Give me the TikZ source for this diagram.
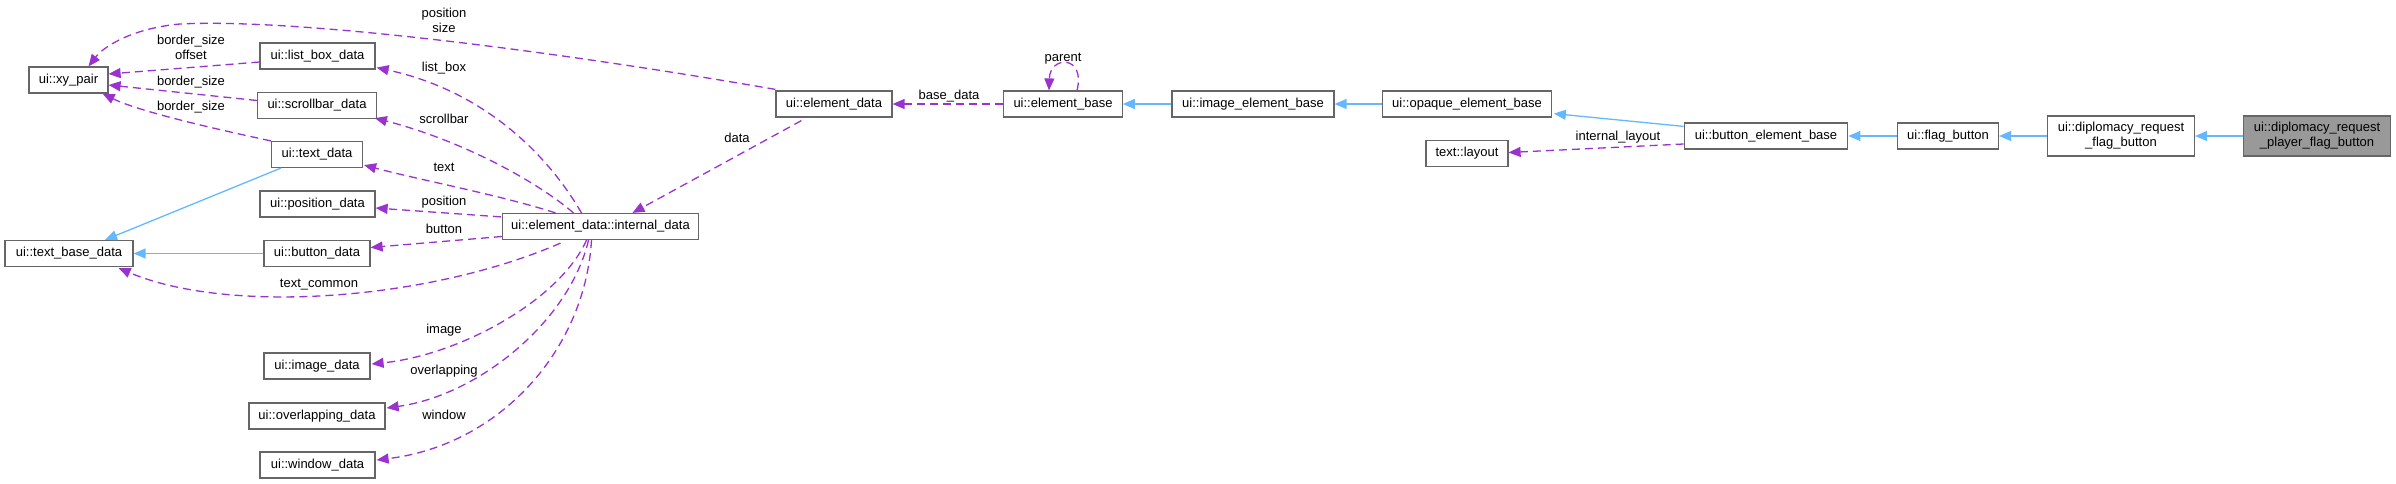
\documentclass[tikz,border=0pt]{standalone}
\usepackage{fontspec}
\setmainfont{Liberation Sans}
\usetikzlibrary{arrows.meta,calc}
\definecolor{purp}{HTML}{9A32CD}
\definecolor{blu}{HTML}{63B8FF}
\definecolor{boxgray}{HTML}{666666}
\definecolor{mainfill}{HTML}{999999}
\begin{document}
\begin{tikzpicture}[x=1pt,y=-1pt,
  box/.style={draw=boxgray,line width=1.2pt,fill=white,minimum height=26pt,inner sep=2pt,align=center,
    font=\fontsize{13}{15}\selectfont},
  dep/.style={draw=purp,line width=1.3pt,dash pattern=on 8pt off 5pt,
    -{Triangle[length=12pt,width=10pt,fill=purp]}},
  inh/.style={draw=blu,line width=1.3pt,-{Triangle[length=12pt,width=10pt,fill=blu]}},
  lbl/.style={font=\fontsize{13}{15}\selectfont,align=center,inner sep=1pt}]
\useasboundingbox (0,0) rectangle (2396,483);
% nodes
\node[box,minimum width=79pt] (xy) at (68.5,80) {ui::xy\_pair};
\node[box,minimum width=115pt] (lb) at (317.5,56) {ui::list\_box\_data};
\node[box,minimum width=118.5pt] (sb) at (317,105.5) {ui::scrollbar\_data};
\node[box,minimum width=91pt] (td) at (317,154.5) {ui::text\_data};
\node[box,minimum width=115pt] (pd) at (317.5,204) {ui::position\_data};
\node[box,minimum width=106pt] (bd) at (317,253.5) {ui::button\_data};
\node[box,minimum width=128pt] (tbd) at (69,253.5) {ui::text\_base\_data};
\node[box,minimum width=196pt] (id) at (600.5,226.5) {ui::element\_data::internal\_data};
\node[box,minimum width=106pt] (imd) at (317,366) {ui::image\_data};
\node[box,minimum width=136pt] (od) at (317,416) {ui::overlapping\_data};
\node[box,minimum width=115pt] (wd) at (317.5,465) {ui::window\_data};
\node[box,minimum width=116pt] (ed) at (834,104) {ui::element\_data};
\node[box,minimum width=118.5pt] (eb) at (1063,104) {ui::element\_base};
\node[box,minimum width=162pt] (ieb) at (1253,104) {ui::image\_element\_base};
\node[box,minimum width=168.5pt] (oeb) at (1467,104) {ui::opaque\_element\_base};
\node[box,minimum width=82pt] (tl) at (1467,153.5) {text::layout};
\node[box,minimum width=163.5pt] (beb) at (1766,136) {ui::button\_element\_base};
\node[box,minimum width=101pt] (fb) at (1948,136) {ui::flag\_button};
\node[box,minimum width=147pt,minimum height=40pt] (drfb) at (2121,136) {ui::diplomacy\_request\\\_flag\_button};
\node[box,minimum width=147pt,minimum height=40pt,fill=mainfill] (drpfb) at (2317,136) {ui::diplomacy\_request\\\_player\_flag\_button};
% inheritance
\draw[inh] ($(td.south west)+(10,0)$) -- ($(tbd.north)+(36,0)$);
\draw[inh] (bd.west) -- (tbd.east);
\draw[inh] (ieb.west) -- (eb.east);
\draw[inh] (oeb.west) -- (ieb.east);
\draw[inh] ($(beb.north west)+(0,4)$) -- ($(oeb.south east)+(2,-4)$);
\draw[inh] (fb.west) -- (beb.east);
\draw[inh] (drfb.west) -- (fb.east);
\draw[inh] (drpfb.west) -- (drfb.east);
% dependencies
\draw[dep] ($(ed.north west)+(0,-1)$) .. controls (560,52) and (300,18) .. (180,24)
  .. controls (135,28) and (105,45) .. ($(xy.north)+(20,0)$);
\node[lbl] (l1) at (444,20) {position\\size};
\draw[dep] ($(lb.west)+(0,6)$) -- ($(xy.east)+(0,-6)$);
\node[lbl] (l2) at (191,47) {border\_size\\offset};
\draw[dep] ($(sb.west)+(0,-5)$) -- ($(xy.east)+(0,5)$);
\node[lbl] (l3) at (191,82) {border\_size};
\draw[dep] (td.north west) .. controls (220,130) and (140,112) .. ($(xy.south east)+(-6,0)$);
\node[lbl] (l4) at (191,107) {border\_size};
\draw[dep] ($(id.north)+(-19,0)$) .. controls (545,150) and (480,90) .. ($(lb.south east)+(1,-2)$);
\node[lbl] (l5) at (444,68) {list\_box};
\draw[dep] ($(id.north)+(-27,0)$) .. controls (535,180) and (460,140) .. ($(sb.south east)+(-2,-1)$);
\node[lbl] (l6) at (444,119) {scrollbar};
\draw[dep] ($(id.north)+(-45,0)$) .. controls (500,195) and (420,180) .. ($(td.south east)+(1,-3)$);
\node[lbl] (l7) at (444,167) {text};
\draw[dep] ($(id.north west)+(-1,4)$) -- ($(pd.east)+(0,4)$);
\node[lbl] (l8) at (444,202) {position};
\draw[dep] ($(id.west)+(0,10)$) -- ($(bd.east)+(0,-6)$);
\node[lbl] (l9) at (444,229) {button};
\draw[dep] ($(id.south)+(-40,3)$) .. controls (430,300) and (230,315) .. ($(tbd.south east)+(-15,1)$);
\node[lbl] (l10) at (319,285) {text\_common};
\draw[dep] ($(id.south)+(-14,0)$) .. controls (560,300) and (460,355) .. ($(imd.east)+(1,-2)$);
\node[lbl] (l11) at (444,330) {image};
\draw[dep] ($(id.south)+(-12,0)$) .. controls (570,320) and (480,395) .. ($(od.east)+(1,-8)$);
\node[lbl] (l12) at (444,371) {overlapping};
\draw[dep] ($(id.south)+(-9,0)$) .. controls (585,350) and (500,445) .. ($(wd.east)+(1,-5)$);
\node[lbl] (l13) at (444,415) {window};
\draw[dep] ($(ed.south west)+(26,3)$) -- ($(id.north)+(32,0)$);
\node[lbl] (l14) at (737,138) {data};
\draw[dep] (eb.west) -- (ed.east);
\node[lbl] (l15) at (949,96) {base\_data};
\draw[dep] ($(eb.north)+(14,0)$) .. controls (1086,55) and (1050,55) .. ($(eb.north)+(-14,0)$);
\node[lbl] (l16) at (1063,59) {parent};
\draw[dep] ($(beb.west)+(0,8)$) -- ($(tl.east)+(0,-1)$);
\node[lbl] (l17) at (1618,137) {internal\_layout};
\end{tikzpicture}
\end{document}
